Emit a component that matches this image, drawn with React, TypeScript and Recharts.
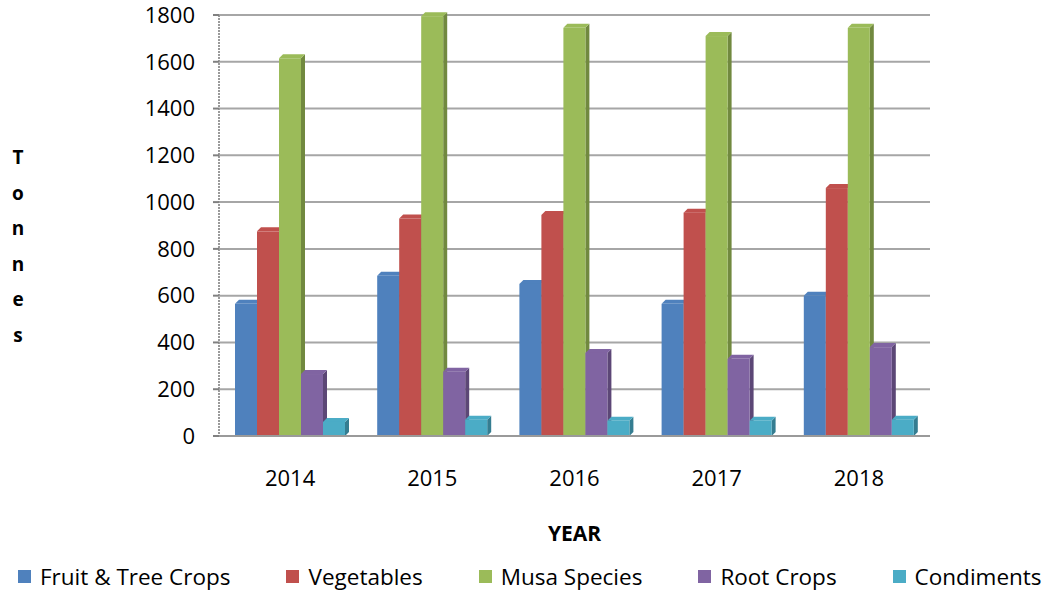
import React from 'react';
import { BarChart, Bar, XAxis, YAxis, CartesianGrid, Legend, Label } from 'recharts';

const years = ['2014', '2015', '2016', '2017', '2018'];
const fruitTree = [565, 685, 650, 565, 600];
const vegetables = [875, 930, 945, 955, 1060];
const musa = [1615, 1795, 1745, 1710, 1745];
const rootCrops = [265, 275, 355, 330, 380];
const condiments = [60, 70, 65, 65, 70];
const yTicks = [0, 200, 400, 600, 800, 1000, 1200, 1400, 1600, 1800];

const series = [
  { key: 'fruit', name: 'Fruit & Tree Crops', values: fruitTree, color: '#4F81BD', side: '#385D8A' },
  { key: 'veg', name: 'Vegetables', values: vegetables, color: '#C0504D', side: '#8C3836' },
  { key: 'musa', name: 'Musa Species', values: musa, color: '#9BBB59', side: '#71893F' },
  { key: 'root', name: 'Root Crops', values: rootCrops, color: '#8064A2', side: '#5C4776' },
  { key: 'cond', name: 'Condiments', values: condiments, color: '#4BACC6', side: '#357D91' },
];

const data = years.map((year, i) => {
  const row: Record<string, string | number> = { year };
  series.forEach((s) => {
    row[s.key] = s.values[i];
  });
  return row;
});

const FONT = '"Open Sans", sans-serif';

const makeShape = (color: string, side: string) => (props: any) => {
  const { x, y, width, height } = props;
  if (width == null || height == null || height <= 0) return null;
  const d = 4;
  const top = `${x},${y} ${x + d},${y - d} ${x + width + d},${y - d} ${x + width},${y}`;
  const right = `${x + width},${y} ${x + width + d},${y - d} ${x + width + d},${y + height - d} ${x + width},${y + height}`;
  return (
    <g>
      <polygon points={right} fill={side} />
      <polygon points={top} fill={color} />
      <rect x={x} y={y} width={width} height={height} fill={color} />
    </g>
  );
};

const TonnesLabel = (props: any) => {
  const vb = props.viewBox || { x: 0, y: 0 };
  const letters = ['T', 'o', 'n', 'n', 'e', 's'];
  return (
    <text fontFamily={FONT} fontWeight="bold" fontSize={19} fill="#000" textAnchor="middle">
      {letters.map((l, i) => (
        <tspan key={i} x={18} y={vb.y + 149 + i * 35.5}>
          {l}
        </tspan>
      ))}
    </text>
  );
};

const LegendContent = () => (
  <div
    style={{
      display: 'flex',
      alignItems: 'center',
      height: 28,
      paddingLeft: 18,
      fontFamily: FONT,
      fontSize: 22.5,
      color: '#000',
      gap: 56,
      whiteSpace: 'nowrap',
    }}
  >
    {series.map((s) => (
      <div key={s.key} style={{ display: 'flex', alignItems: 'center' }}>
        <span style={{ display: 'inline-block', width: 13, height: 13, background: s.color, marginRight: 9 }} />
        <span>{s.name}</span>
      </div>
    ))}
  </div>
);

export default function App() {
  return (
    <div style={{ position: 'absolute', left: 0, top: 0, width: 1042, height: 592, background: '#fff' }}>
      <BarChart
        width={1042}
        height={592}
        data={data}
        margin={{ top: 15, right: 112, bottom: 2, left: 139 }}
        barGap={0}
        barSize={22}
      >
        <CartesianGrid vertical={false} stroke="#a6a6a6" strokeWidth={2} />
        <XAxis
          dataKey="year"
          height={126}
          tickSize={0}
          tickMargin={34}
          axisLine={{ stroke: '#9a9a9a', strokeWidth: 2 }}
          tick={{ fontFamily: FONT, fontSize: 22, fill: '#000' }}
        >
          <Label
            value="YEAR"
            position="insideBottom"
            offset={21}
            style={{ fontFamily: FONT, fontSize: 21, fontWeight: 'bold', fill: '#000' }}
          />
        </XAxis>
        <YAxis
          width={80}
          domain={[0, 1800]}
          ticks={yTicks}
          interval={0}
          tickSize={6}
          tickMargin={18}
          axisLine={{ stroke: '#9a9a9a', strokeWidth: 2, strokeDasharray: '2 1' }}
          tickLine={{ stroke: '#808080', strokeWidth: 2 }}
          tick={{ fontFamily: FONT, fontSize: 22, fill: '#000' }}
        >
          <Label content={<TonnesLabel />} position="left" />
        </YAxis>
        <Legend
          verticalAlign="bottom"
          content={<LegendContent />}
          wrapperStyle={{ left: 0, width: 1042 }}
        />
        {series.map((s) => (
          <Bar
            key={s.key}
            dataKey={s.key}
            name={s.name}
            fill={s.color}
            isAnimationActive={false}
            shape={makeShape(s.color, s.side)}
          />
        ))}
      </BarChart>
    </div>
  );
}
